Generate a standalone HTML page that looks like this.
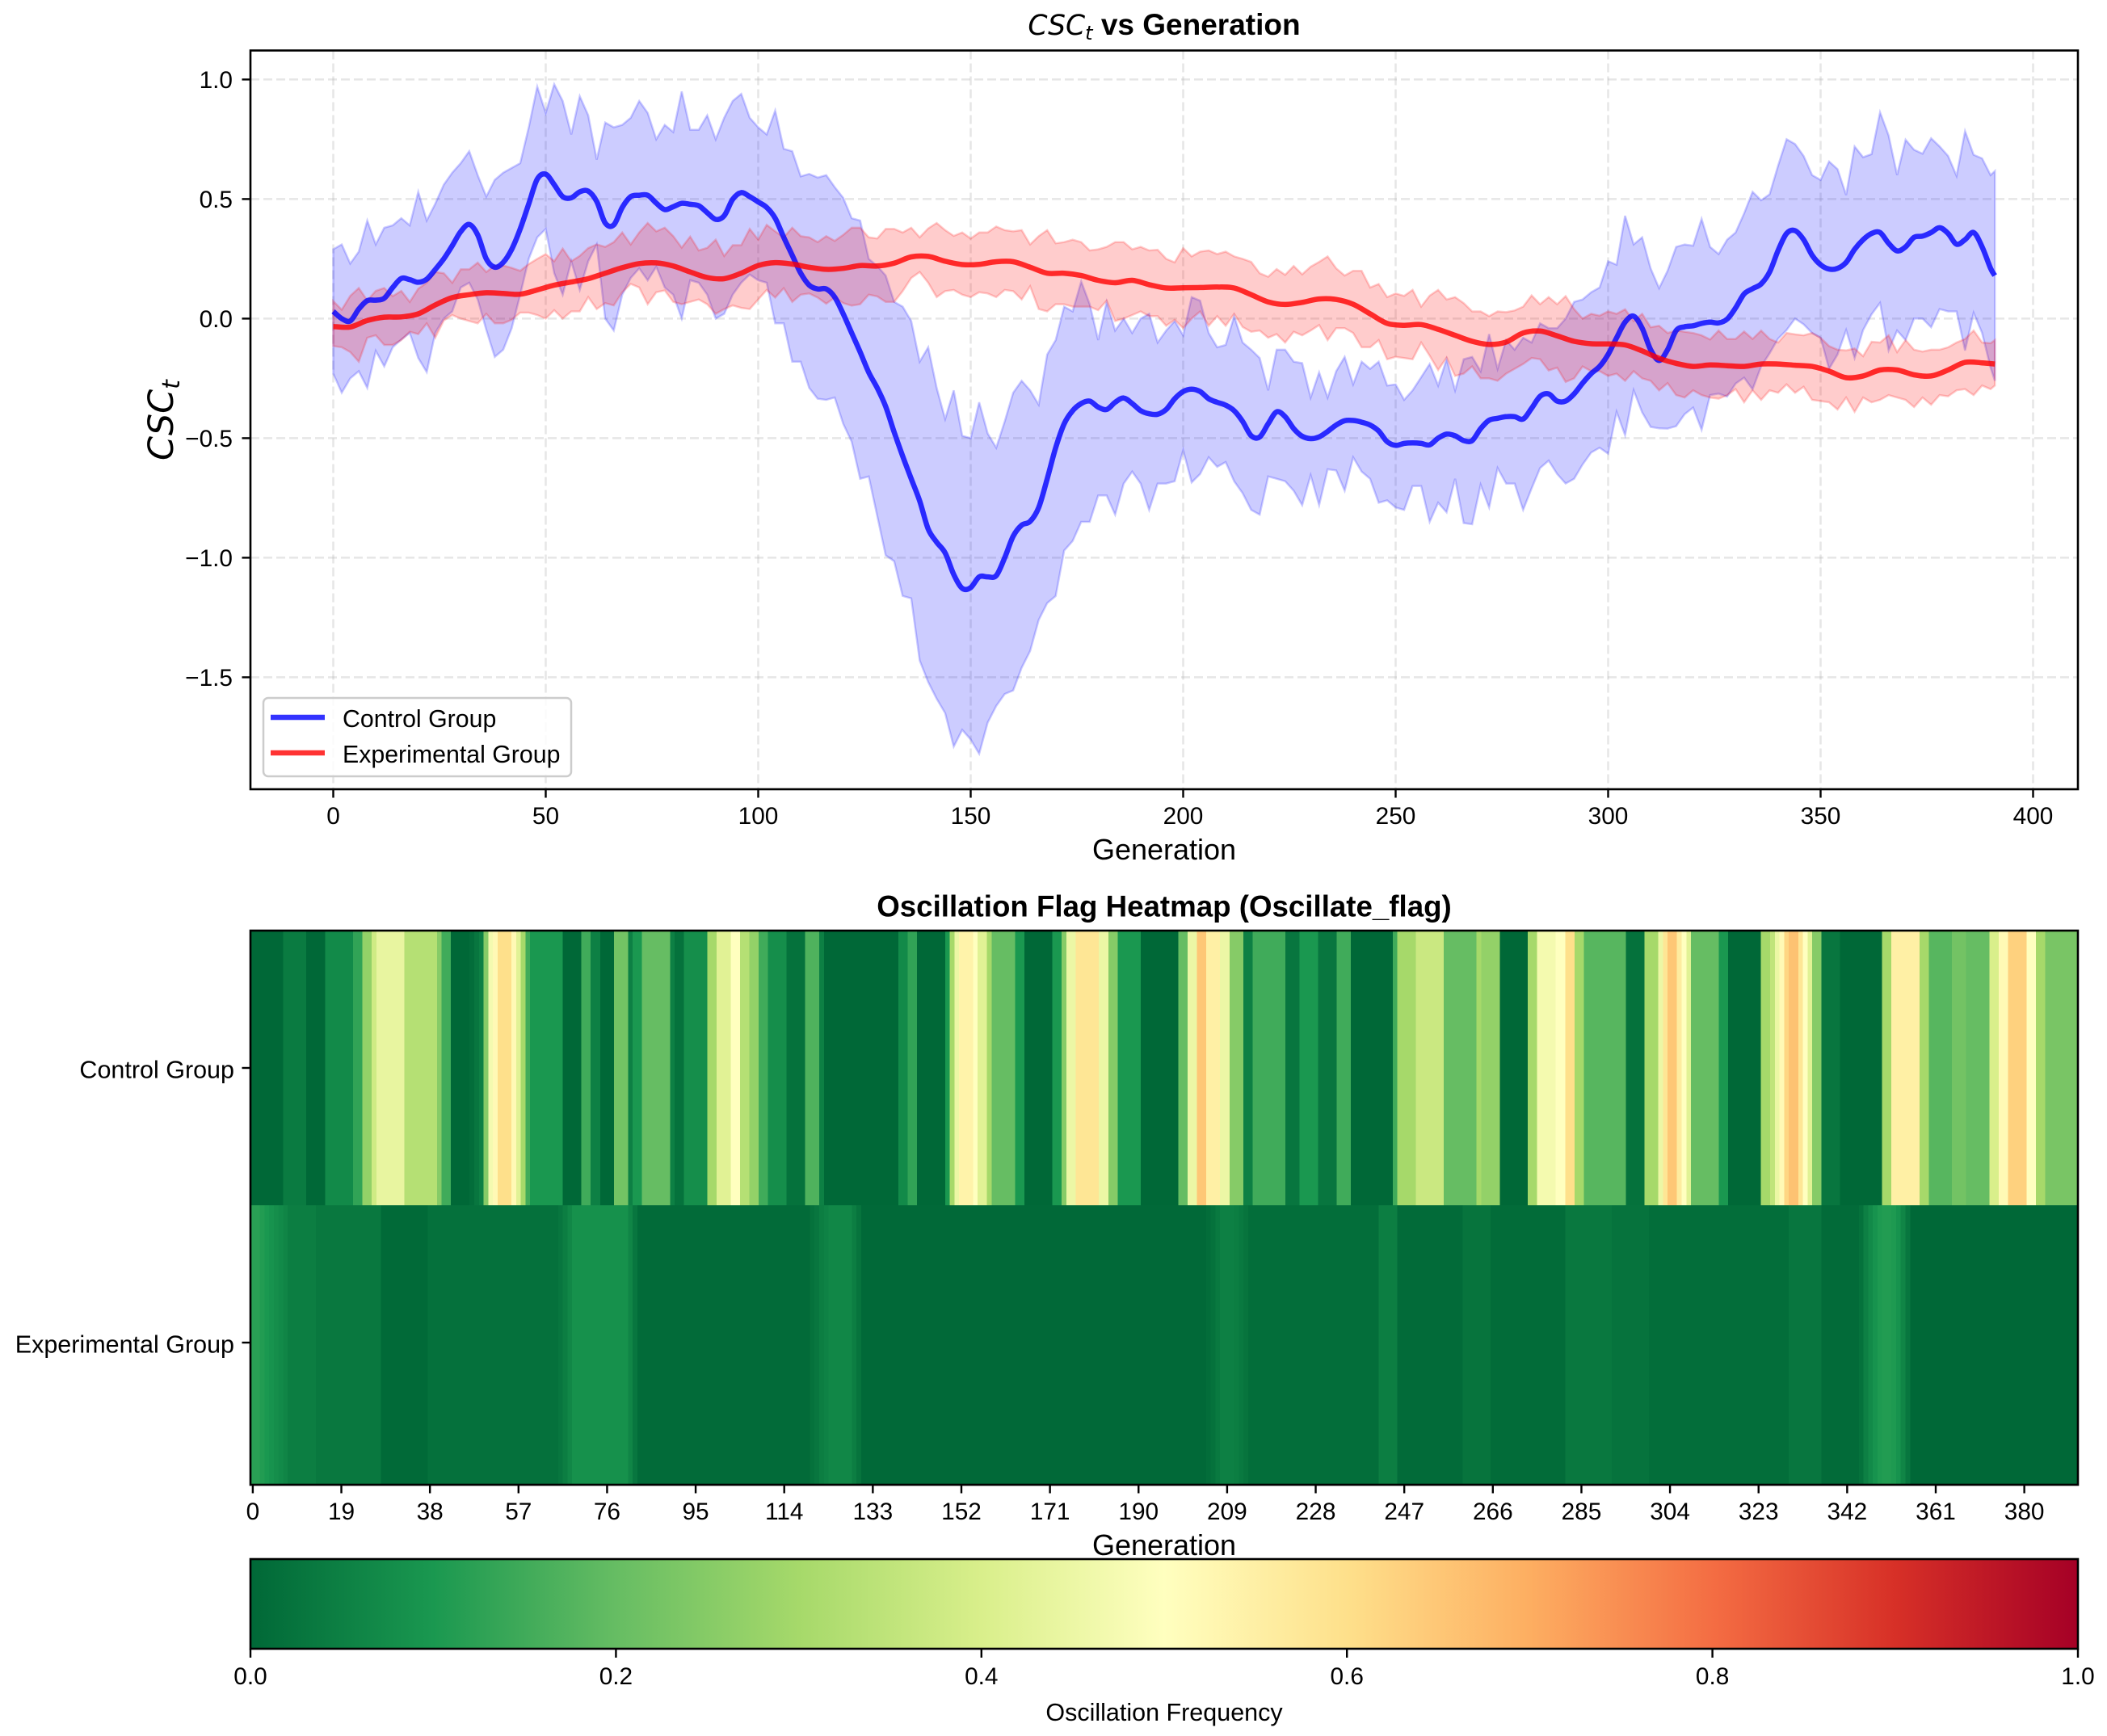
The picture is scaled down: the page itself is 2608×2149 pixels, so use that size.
<!DOCTYPE html>
<html lang="en">
<head>
<meta charset="utf-8">
<title>CSC_t vs Generation</title>
<style>
html,body{margin:0;padding:0;background:#fff;}
svg{display:block;position:absolute;left:0;top:0;}
text{font-family:"Liberation Sans",Arial,sans-serif;fill:#000;}
.math{font-family:"DejaVu Sans",sans-serif;font-style:italic;}
</style>
</head>
<body>
<svg id="figure" xmlns="http://www.w3.org/2000/svg" width="2608" height="2149" viewBox="0 0 2608 2149">
  <defs>
    <linearGradient id="cbGradient" x1="0" x2="1" y1="0" y2="0"></linearGradient>
  </defs>
  <rect x="0" y="0" width="2608" height="2149" fill="#ffffff"/>

  <text x="1441" y="43" text-anchor="middle" font-size="37" font-weight="bold"><tspan class="math" font-weight="normal" font-size="34.5">CSC</tspan><tspan class="math" font-weight="normal" font-size="24" dy="6">t</tspan><tspan dy="-6"> vs Generation</tspan></text>

  <rect x="310" y="62.5" width="2262" height="914.5" fill="#ffffff"/>
  <g id="gridLayer"></g>
  <g id="bandLayer"></g>
  <g id="lineLayer"></g>
  <rect x="310" y="62.5" width="2262" height="914.5" fill="none" stroke="#000" stroke-width="2.6"/>
  <g id="lineAxisLayer"></g>

  <g>
    <rect x="326" y="864" width="381" height="97" rx="6" ry="6" fill="#ffffff" fill-opacity="0.8" stroke="#cccccc" stroke-width="2.5"/>
    <line x1="335" x2="402" y1="888" y2="888" stroke="#0000ff" stroke-opacity="0.8" stroke-width="6.5"/>
    <text x="424" y="900" font-size="30.3">Control Group</text>
    <line x1="335" x2="402" y1="932" y2="932" stroke="#ff0000" stroke-opacity="0.8" stroke-width="6.5"/>
    <text x="424" y="944" font-size="30.3">Experimental Group</text>
  </g>

  <text x="1441" y="1064" text-anchor="middle" font-size="36">Generation</text>
  <text transform="translate(214,520) rotate(-90)" text-anchor="middle" font-size="43"><tspan class="math">CSC</tspan><tspan class="math" font-size="30" dy="8">t</tspan></text>

  <text x="1441" y="1134.5" text-anchor="middle" font-size="36.7" font-weight="bold">Oscillation Flag Heatmap (Oscillate_flag)</text>
  <g id="heatLayer"></g>
  <rect x="310" y="1152" width="2262" height="686" fill="none" stroke="#000" stroke-width="2.6"/>
  <g id="heatAxisLayer"></g>
  <text x="1441" y="1925" text-anchor="middle" font-size="36">Generation</text>

  <rect x="310" y="1930" width="2262" height="111" fill="url(#cbGradient)"/>
  <rect x="310" y="1930" width="2262" height="111" fill="none" stroke="#000" stroke-width="2.6"/>
  <g id="colorbarAxisLayer"></g>
  <text x="1441" y="2130" text-anchor="middle" font-size="30.5">Oscillation Frequency</text>
</svg>

<script>
const controlUpper = [
.29,.31,.23,.28,.41,.31,.38,.39,.42,.39,
.53,.41,.48,.56,.61,.65,.70,.60,.51,.58,
.61,.63,.65,.80,.97,.86,.98,.91,.77,.93,
.85,.665,.82,.80,.81,.84,.91,.86,.75,.81,
.78,.95,.79,.79,.85,.75,.84,.91,.94,.84,
.80,.77,.87,.71,.70,.595,.605,.59,.60,.55,
.505,.42,.41,.25,.22,.18,.07,.05,-.01,-.18,
-.12,-.29,-.42,-.30,-.49,-.50,-.35,-.48,-.54,-.43,
-.31,-.26,-.30,-.36,-.15,-.09,.05,.03,.155,.06,
-.09,.07,-.05,0,-.06,0,.02,-.10,-.05,-.01,
-.07,.09,.075,-.06,-.12,-.11,.01,-.10,-.13,-.165,
-.30,-.13,-.13,-.18,-.186,-.33,-.225,-.33,-.22,-.16,
-.275,-.18,-.21,-.18,-.28,-.275,-.34,-.30,-.245,-.19,
-.28,-.17,-.30,-.17,-.16,-.22,-.065,-.21,-.09,-.13,
-.08,-.10,-.02,-.04,-.04,0,.07,.08,.11,.13,
.24,.225,.43,.31,.34,.21,.127,.20,.30,.31,
.305,.417,.30,.27,.33,.36,.44,.53,.495,.52,
.64,.75,.73,.68,.60,.58,.657,.625,.517,.72,
.675,.688,.863,.766,.60,.748,.706,.69,.754,.72,
.68,.597,.784,.685,.67,.60,.617];

const controlLower = [
-.23,-.31,-.25,-.22,-.29,-.135,-.20,-.12,-.087,-.06,
-.165,-.224,-.06,0,.03,.13,.15,.08,-.047,-.16,
-.13,-.04,.10,.25,.34,.375,.19,.10,.24,.12,
.24,.31,0,-.05,.10,.17,.21,.16,.217,.13,
.10,0,.16,.15,.10,0,.02,.10,.15,.184,
.16,.15,-.02,-.02,-.18,-.18,-.29,-.335,-.34,-.33,
-.44,-.515,-.67,-.66,-.825,-.99,-1.015,-1.16,-1.17,-1.43,
-1.52,-1.59,-1.65,-1.79,-1.72,-1.76,-1.82,-1.69,-1.62,-1.57,
-1.555,-1.46,-1.39,-1.26,-1.19,-1.16,-.97,-.93,-.85,-.85,
-.74,-.74,-.82,-.69,-.64,-.69,-.80,-.69,-.69,-.68,
-.55,-.685,-.65,-.58,-.62,-.60,-.68,-.73,-.80,-.82,
-.66,-.67,-.68,-.72,-.78,-.655,-.78,-.63,-.635,-.72,
-.58,-.64,-.67,-.77,-.76,-.79,-.80,-.70,-.70,-.85,
-.77,-.81,-.67,-.855,-.86,-.695,-.79,-.625,-.69,-.69,
-.80,-.71,-.625,-.594,-.65,-.69,-.67,-.61,-.56,-.54,
-.565,-.39,-.488,-.30,-.392,-.453,-.459,-.46,-.45,-.40,
-.372,-.465,-.32,-.314,-.326,-.272,-.247,-.296,-.20,-.145,
-.084,-.048,0,-.024,-.06,-.08,-.21,-.15,-.048,-.165,
-.048,.018,.066,-.133,-.05,-.09,0,0,-.036,.04,
.03,.03,-.133,.024,-.06,-.205,-.26];

const controlMean = [
.03,0,-.01,.04,.075,.077,.085,.13,.168,.163,
.152,.165,.205,.25,.305,.364,.394,.35,.25,.215,
.235,.29,.375,.48,.583,.604,.56,.51,.505,.53,
.533,.49,.40,.392,.465,.51,.516,.516,.483,.456,
.468,.482,.478,.472,.443,.415,.43,.499,.527,.51,
.488,.465,.42,.34,.265,.19,.14,.124,.124,.09,
.02,-.06,-.14,-.225,-.29,-.368,-.475,-.575,-.67,-.763,
-.88,-.935,-.98,-1.07,-1.128,-1.125,-1.08,-1.08,-1.075,-1.0,
-.91,-.864,-.848,-.79,-.67,-.54,-.44,-.385,-.355,-.345,
-.37,-.38,-.35,-.332,-.355,-.385,-.398,-.40,-.38,-.335,
-.305,-.295,-.305,-.335,-.35,-.362,-.385,-.43,-.49,-.495,
-.44,-.39,-.41,-.46,-.492,-.502,-.495,-.472,-.445,-.427,
-.426,-.433,-.445,-.47,-.515,-.53,-.522,-.52,-.522,-.528,
-.50,-.483,-.49,-.51,-.51,-.46,-.425,-.417,-.41,-.41,
-.42,-.375,-.325,-.315,-.345,-.345,-.315,-.27,-.23,-.20,
-.15,-.08,-.015,.01,-.04,-.13,-.175,-.13,-.05,-.034,
-.03,-.02,-.015,-.018,-.002,.045,.103,.125,.145,.195,
.285,.356,.368,.33,.265,.225,.207,.21,.235,.29,
.33,.356,.36,.315,.283,.30,.34,.345,.36,.38,
.356,.311,.33,.36,.30,.21,.18];

const experimentalUpper = [
.073,.037,.095,.128,.076,.116,.128,.094,.116,.07,
.125,.15,.195,.19,.15,.206,.206,.234,.195,.222,
.222,.212,.20,.228,.25,.27,.24,.293,.24,.262,
.295,.31,.30,.32,.36,.31,.36,.40,.365,.38,
.345,.297,.343,.285,.296,.33,.262,.307,.307,.375,
.33,.392,.365,.34,.38,.345,.34,.32,.345,.325,
.35,.38,.38,.34,.335,.375,.375,.36,.38,.34,
.377,.40,.37,.346,.36,.335,.36,.36,.385,.37,
.365,.37,.31,.345,.37,.315,.32,.33,.32,.285,
.29,.30,.32,.32,.29,.30,.285,.288,.25,.235,
.295,.26,.28,.285,.27,.28,.26,.25,.237,.19,
.175,.207,.183,.22,.185,.217,.237,.26,.21,.18,
.20,.20,.13,.145,.09,.105,.095,.12,.05,.096,
.12,.08,.09,.065,.03,.03,.01,.03,.027,.034,
.05,.097,.06,.09,.06,.094,.04,0,.02,.012,
.03,.02,.039,-.01,.02,-.036,-.03,-.06,-.05,-.055,
-.06,-.07,-.087,-.05,-.085,-.085,-.054,-.085,-.05,-.085,
-.10,-.06,-.066,-.07,-.06,-.08,-.115,-.13,-.133,-.125,
-.157,-.097,-.10,-.07,-.14,-.09,-.13,-.138,-.13,-.13,
-.12,-.10,-.085,-.05,-.10,-.103,-.09];

const experimentalLower = [
-.115,-.12,-.14,-.18,-.08,-.07,-.11,-.11,-.09,-.055,
-.065,-.02,-.08,-.008,.015,0,-.01,-.02,.02,-.02,
-.02,-.005,.025,.025,.015,0,.035,0,.03,.03,
.09,.04,.065,.055,.11,.145,.13,.06,.11,.118,
.07,.06,.07,.08,.06,.02,.04,.055,.045,.04,
.08,.12,.088,.127,.07,.10,.105,.088,.062,.088,
.065,.054,.06,.10,.093,.07,.07,.115,.17,.195,
.15,.09,.115,.12,.10,.09,.11,.105,.09,.12,
.115,.08,.135,.04,.03,.06,.06,.05,.05,.05,
.035,.075,-.01,0,.015,.03,.01,.01,-.03,-.005,
-.04,0,.03,-.03,.01,-.03,.02,-.035,-.055,-.05,
-.08,-.065,-.10,-.055,-.07,-.05,-.027,-.09,-.04,-.04,
-.06,-.12,-.12,-.09,-.17,-.16,-.165,-.17,-.10,-.155,
-.215,-.163,-.24,-.23,-.2,-.25,-.25,-.26,-.23,-.21,
-.19,-.165,-.17,-.217,-.205,-.265,-.25,-.2,-.22,-.22,
-.24,-.23,-.26,-.22,-.25,-.26,-.30,-.27,-.32,-.33,
-.30,-.32,-.33,-.335,-.32,-.295,-.35,-.30,-.34,-.30,
-.31,-.275,-.31,-.285,-.34,-.345,-.35,-.38,-.33,-.39,
-.33,-.35,-.34,-.32,-.33,-.34,-.37,-.33,-.36,-.32,
-.325,-.30,-.295,-.32,-.28,-.295,-.28];

const experimentalMean = [
-.033,-.035,-.008,.006,.007,.02,.057,.088,.10,.108,
.105,.102,.12,.14,.153,.167,.19,.213,.23,.233,
.22,.195,.172,.167,.19,.222,.234,.228,.215,.206,
.21,.222,.22,.232,.258,.26,.24,.226,.227,.238,
.238,.215,.19,.19,.18,.16,.15,.16,.142,.128,
.129,.13,.132,.128,.10,.07,.059,.068,.082,.08,
.06,.02,-.02,-.028,-.025,-.045,-.07,-.095,-.108,-.098,
-.06,-.052,-.072,-.095,-.105,-.106,-.11,-.135,-.166,-.187,
-.20,-.194,-.197,-.20,-.19,-.19,-.195,-.20,-.22,-.247,
-.24,-.215,-.215,-.235,-.24,-.215,-.183,-.185,-.19];

const lastGeneration = 391;
const bandSampleStep = 2;
const controlMeanStep = 2;
const experimentalMeanStep = 4;

const lineXTicks = [0,50,100,150,200,250,300,350,400];
const lineXTickLabels = ['0','50','100','150','200','250','300','350','400'];
const lineYTicks = [1,.5,0,-.5,-1,-1.5];
const lineYTickLabels = ['1.0','0.5','0.0','\u22120.5','\u22121.0','\u22121.5'];

// Heatmap values: one per generation, 0 to 391.
const heatRowLabels = ['Control Group','Experimental Group'];
const controlFrequency = [
0,0,0,0,0,0,0,.04,.04,.04,
.04,.04,0,0,0,0,.07,.07,.07,.07,
.07,.07,.13,.13,.27,.27,.38,.44,.44,.44,
.44,.44,.44,.33,.33,.33,.33,.33,.33,.33,
.25,.15,.15,0,0,0,0,.01,.03,.05,
.25,.47,.52,.6,.6,.6,.52,.42,.3,.15,
.1,.1,.1,.1,.1,.1,.1,0,0,0,
0,.15,.15,.05,.05,0,0,0,.22,.22,
.22,.05,.1,.1,.2,.2,.2,.2,.2,.2,
.05,.02,.02,.08,.08,.08,.08,.08,.3,.3,
.42,.42,.42,.5,.5,.33,.33,.27,.27,.15,
.15,.08,.08,.08,.08,.02,.02,.02,.02,.17,
.17,.17,.05,0,0,0,0,0,0,0,
0,0,0,0,0,0,0,0,0,.07,
.07,.13,.13,0,0,0,0,0,0,.1,
.3,.45,.54,.54,.54,.5,.42,.42,.3,.2,
.2,.2,.2,.2,.1,.1,0,0,0,0,
0,0,.1,.1,.25,.45,.45,.58,.58,.58,
.58,.58,.45,.45,.25,.25,.1,.1,.1,.1,
.1,0,0,0,0,0,0,0,0,.2,
.2,.45,.45,.65,.65,.55,.55,.55,.45,.45,
.25,.25,.25,.05,.05,.15,.15,.15,.15,.15,
.15,.15,.03,.03,.03,.1,.1,.1,.1,.03,
.03,.03,.03,.15,.15,.15,0,0,0,0,
0,0,0,0,0,.15,.3,.3,.3,.3,
.37,.37,.37,.37,.37,.37,.2,.2,.2,.2,
.2,.2,.2,.3,.27,.27,.27,.27,0,0,
0,0,0,0,.3,.3,.47,.47,.47,.47,
.5,.5,.6,.6,.3,.3,.18,.18,.18,.18,
.18,.18,.18,.18,.18,.02,.02,.02,.02,.3,
.3,.3,.45,.58,.65,.65,.56,.5,.42,.2,
.2,.2,.2,.2,.2,.1,.1,0,0,0,
0,0,0,0,.3,.3,.35,.45,.52,.62,
.66,.66,.58,.5,.42,.25,.25,.03,.03,.03,
.03,0,0,0,0,0,0,0,0,0,
.3,.3,.55,.55,.55,.55,.55,.55,.3,.3,
.18,.18,.18,.18,.18,.22,.22,.22,.2,.2,
.2,.2,.2,.4,.4,.52,.52,.63,.63,.63,
.63,.5,.5,.3,.3,.23,.23,.23,.23,.23,.23,.23];

const experimentalFrequency = [
.12,.12,.11,.10,.09,.08,.07,.06,.045,.045,
.045,.045,.045,.045,.033,.033,.033,.033,.033,.033,
.033,.033,.033,.033,.033,.033,.033,.033,.005,.005,
.005,.005,.005,.005,.005,.005,.005,.005,.018,.018,
.018,.018,.018,.018,.018,.018,.018,.018,.018,.018,
.018,.018,.018,.018,.018,.018,.018,.018,.018,.018,
.018,.018,.018,.018,.018,.018,.03,.045,.065,.085,
.085,.085,.085,.085,.085,.085,.085,.085,.085,.085,
.085,.06,.03,.006,.006,.006,.006,.006,.006,.006,
.006,.006,.006,.006,.006,.006,.006,.006,.006,.006,
.006,.006,.006,.006,.006,.006,.006,.006,.006,.006,
.006,.006,.006,.006,.006,.006,.006,.006,.006,.006,
.02,.03,.045,.055,.065,.065,.065,.065,.065,.045,
.025,.003,.003,.003,.003,.003,.003,.003,.003,.003,
.003,.003,.003,.003,.003,.003,.003,.003,.003,.003,
.003,.003,.003,.003,.003,.003,.003,.003,.003,.003,
.003,.003,.003,.003,.003,.003,.003,.003,.003,.003,
.003,.003,.003,.003,.003,.003,.003,.003,.003,.003,
.003,.003,.003,.003,.003,.003,.003,.003,.003,.003,
.003,.003,.003,.003,.003,.003,.003,.003,.003,.003,
.003,.003,.003,.003,.003,.01,.02,.035,.05,.05,
.05,.045,.035,.025,.013,.013,.013,.013,.013,.013,
.013,.013,.013,.013,.013,.013,.013,.013,.013,.013,
.013,.013,.013,.013,.013,.013,.013,.013,.013,.013,
.013,.013,.045,.045,.045,.045,.006,.006,.006,.006,
.006,.006,.006,.006,.006,.006,.006,.006,.006,.006,
.025,.025,.025,.025,.025,.025,.008,.008,.008,.008,
.008,.008,.008,.008,.008,.008,.008,.008,.008,.008,
.008,.008,.033,.033,.033,.033,.033,.033,.033,.033,
.033,.033,.022,.022,.022,.022,.022,.022,.022,.022,
.013,.013,.013,.013,.013,.013,.013,.013,.013,.013,
.013,.013,.013,.013,.013,.013,.013,.013,.013,.013,
.013,.013,.013,.013,.013,.013,.013,.013,.013,.013,
.03,.03,.03,.03,.03,.03,.03,.006,.006,.006,
.006,.006,.006,.006,.006,.02,.05,.07,.09,.105,
.11,.11,.105,.09,.06,.03,0,0,0,0,
0,0,0,0,0,0,0,0,0,0,
0,0,0,0,0,0,0,0,0,0,
0,0,0,0,0,0,0,0,0,0,0,0];

const heatXTicks = [0,19,38,57,76,95,114,133,152,171,190,209,228,247,266,285,304,323,342,361,380];
const colorbarTicks = [0,.2,.4,.6,.8,1];
const colorbarTickLabels = ['0.0','0.2','0.4','0.6','0.8','1.0'];
const colormapColors = ['#006837','#1a9850','#66bd63','#a6d96a','#d9ef8b','#ffffbf','#fee08b','#fdae61','#f46d43','#d73027','#a50026'];

// Axis functions
function lineX(generation){ return 412.5 + 5.26 * generation; }
function lineY(value){ return 394.4 - 296 * value; }
function heatCellX(generation){ return 310 + (2262 / 392) * generation; }
function heatRowY(row){ return 1152 + 340 * row; }
function heatRowHeight(row){ return row === 0 ? 340 : 346; }
function colorbarX(value){ return 310 + 2262 * value; }

function hexToRgb(hex){
  return [parseInt(hex.slice(1,3),16),parseInt(hex.slice(3,5),16),parseInt(hex.slice(5,7),16)];
}
function colormap(value){
  const t = Math.max(0, Math.min(1, value)) * (colormapColors.length - 1);
  const low = Math.min(Math.floor(t), colormapColors.length - 2);
  const f = t - low;
  const a = hexToRgb(colormapColors[low]);
  const b = hexToRgb(colormapColors[low + 1]);
  return 'rgb(' + a.map(function(c,i){ return Math.round(c + (b[i] - c) * f); }).join(',') + ')';
}
function sampleGeneration(index, step){ return Math.min(index * step, lastGeneration); }

const SVG_NS = 'http://www.w3.org/2000/svg';
function make(tag, attrs, parent){
  const el = document.createElementNS(SVG_NS, tag);
  Object.keys(attrs).forEach(function(k){ el.setAttribute(k, attrs[k]); });
  parent.appendChild(el);
  return el;
}

function bandPath(upper, lower, step){
  const top = upper.map(function(v,i){ return lineX(sampleGeneration(i,step)).toFixed(1) + ',' + lineY(v).toFixed(1); });
  const bottom = lower.map(function(v,i){ return lineX(sampleGeneration(i,step)).toFixed(1) + ',' + lineY(v).toFixed(1); }).reverse();
  return 'M' + top.join('L') + 'L' + bottom.join('L') + 'Z';
}
function smoothPath(values, step){
  const pts = values.map(function(v,i){ return [lineX(sampleGeneration(i,step)), lineY(v)]; });
  let d = 'M' + pts[0][0].toFixed(1) + ',' + pts[0][1].toFixed(1);
  for (let i = 0; i < pts.length - 1; i++) {
    const p0 = pts[Math.max(i - 1, 0)], p1 = pts[i], p2 = pts[i + 1], p3 = pts[Math.min(i + 2, pts.length - 1)];
    const c1x = p1[0] + (p2[0] - p0[0]) / 6, c1y = p1[1] + (p2[1] - p0[1]) / 6;
    const c2x = p2[0] - (p3[0] - p1[0]) / 6, c2y = p2[1] - (p3[1] - p1[1]) / 6;
    d += 'C' + c1x.toFixed(1) + ',' + c1y.toFixed(1) + ' ' + c2x.toFixed(1) + ',' + c2y.toFixed(1) + ' ' + p2[0].toFixed(1) + ',' + p2[1].toFixed(1);
  }
  return d;
}

const gridLayer = document.getElementById('gridLayer');
const bandLayer = document.getElementById('bandLayer');
const lineLayer = document.getElementById('lineLayer');
const lineAxisLayer = document.getElementById('lineAxisLayer');
const heatLayer = document.getElementById('heatLayer');
const heatAxisLayer = document.getElementById('heatAxisLayer');
const colorbarAxisLayer = document.getElementById('colorbarAxisLayer');
const gridStyle = {stroke:'#b0b0b0','stroke-opacity':'0.32','stroke-width':'2.5','stroke-dasharray':'11 5'};

// Line chart grid and ticks
lineXTicks.forEach(function(tick, i){
  const x = lineX(tick);
  const grid = make('line', Object.assign({x1:x,x2:x,y1:62.5,y2:977}, gridStyle), gridLayer);
  
  
  const mark = make('line', {x1:x,x2:x,y1:977,y2:987.5,stroke:'#000','stroke-width':'2.4'}, lineAxisLayer);
  
  
  const label = make('text', {x:x,y:1020,'text-anchor':'middle','font-size':'29.8'}, lineAxisLayer);
  label.textContent = lineXTickLabels[i];
  
  
});
lineYTicks.forEach(function(tick, i){
  const y = lineY(tick);
  const grid = make('line', Object.assign({x1:310,x2:2572,y1:y,y2:y}, gridStyle), gridLayer);
  
  
  const mark = make('line', {x1:299.5,x2:310,y1:y,y2:y,stroke:'#000','stroke-width':'2.4'}, lineAxisLayer);
  
  
  const label = make('text', {x:288,y:y+10.5,'text-anchor':'end','font-size':'29.8'}, lineAxisLayer);
  label.textContent = lineYTickLabels[i];
  
  
});

// Bands and mean lines
const controlBand = make('path', {d:bandPath(controlUpper, controlLower, bandSampleStep),fill:'#0000ff','fill-opacity':'0.2',stroke:'#0000ff','stroke-opacity':'0.2','stroke-width':'2.5'}, bandLayer);


const experimentalBand = make('path', {d:bandPath(experimentalUpper, experimentalLower, bandSampleStep),fill:'#ff0000','fill-opacity':'0.2',stroke:'#ff0000','stroke-opacity':'0.2','stroke-width':'2.5'}, bandLayer);


const controlLine = make('path', {d:smoothPath(controlMean, controlMeanStep),fill:'none',stroke:'#0000ff','stroke-opacity':'0.8','stroke-width':'6.5','stroke-linejoin':'round'}, lineLayer);


const experimentalLine = make('path', {d:smoothPath(experimentalMean, experimentalMeanStep),fill:'none',stroke:'#ff0000','stroke-opacity':'0.8','stroke-width':'6.5','stroke-linejoin':'round'}, lineLayer);



// Heatmap cells
[controlFrequency, experimentalFrequency].forEach(function(series, row){
  series.forEach(function(value, generation){
    const x0 = heatCellX(generation);
    const x1 = heatCellX(generation + 1);
    const cell = make('rect', {x:x0.toFixed(2),y:heatRowY(row),width:(x1 - x0 + 0.6).toFixed(2),height:heatRowHeight(row),fill:colormap(value),'shape-rendering':'crispEdges'}, heatLayer);
    
    
  });
});

// Heatmap axes
heatXTicks.forEach(function(tick){
  const x = heatCellX(tick + 0.5);
  const mark = make('line', {x1:x,x2:x,y1:1838,y2:1848.5,stroke:'#000','stroke-width':'2.4'}, heatAxisLayer);
  
  
  const label = make('text', {x:x,y:1881,'text-anchor':'middle','font-size':'29.8'}, heatAxisLayer);
  label.textContent = String(tick);
  
  
});
heatRowLabels.forEach(function(text, row){
  const y = heatRowY(row) + 170;
  const mark = make('line', {x1:299.5,x2:310,y1:y,y2:y,stroke:'#000','stroke-width':'2.4'}, heatAxisLayer);
  
  
  const label = make('text', {x:290,y:y+12.5,'text-anchor':'end','font-size':'30.5'}, heatAxisLayer);
  label.textContent = text;
  
  
});

// Colorbar
const cbGradient = document.getElementById('cbGradient');
colormapColors.forEach(function(color, i){
  const stop = make('stop', {offset:(i / (colormapColors.length - 1)),'stop-color':color}, cbGradient);
  
  
});
colorbarTicks.forEach(function(tick, i){
  const x = colorbarX(tick);
  const mark = make('line', {x1:x,x2:x,y1:2041,y2:2052,stroke:'#000','stroke-width':'2.4'}, colorbarAxisLayer);
  
  
  const label = make('text', {x:x,y:2085,'text-anchor':'middle','font-size':'29.8'}, colorbarAxisLayer);
  label.textContent = colorbarTickLabels[i];
  
  
});
</script>
</body>
</html>
